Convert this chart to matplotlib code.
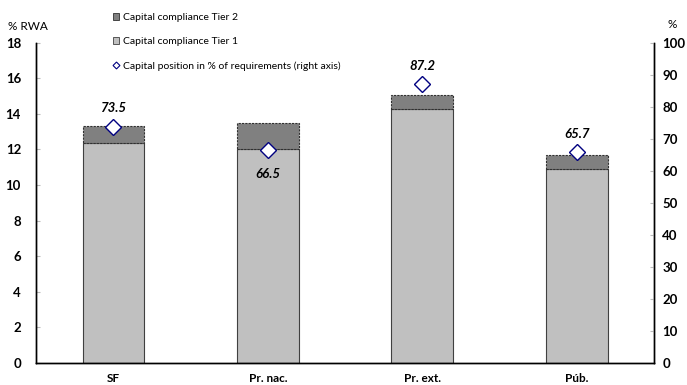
import numpy as np
import matplotlib
matplotlib.use("Agg")
import matplotlib.pyplot as plt
from matplotlib.patches import Patch
from matplotlib.lines import Line2D

plt.rcParams['font.family'] = ['Lato', 'DejaVu Sans']

# capital by bank group
groups = ['SF', 'Pr. nac.', 'Pr. ext.', 'Púb.']
tier1 = [12.38, 12.00, 14.29, 10.90]
tier2 = [0.93, 1.47, 0.77, 0.77]
position = [73.5, 66.5, 87.2, 65.7]
label_dy = [14, -17, 13, 13]   # offset of value labels, points

fig = plt.figure(figsize=(6.87, 3.85), dpi=100)
ax = fig.add_axes([0.0528, 0.0571, 0.8992, 0.8323])
ax2 = ax.twinx()

x = np.arange(len(groups))
w = 0.40
ax.bar(x, tier1, w, color='#c0c0c0', edgecolor='#404040', linewidth=0.8, zorder=2)
ax.bar(x, tier2, w, bottom=tier1, color='#808080', edgecolor='#303030',
       linewidth=0.8, linestyle=(0, (2, 1)), zorder=2)

ax.set_ylim(0, 18)
ax.set_yticks(np.arange(0, 19, 2))
ax.set_xlim(-0.5, len(groups) - 0.5)
ax.set_xticks(x)
ax.set_xticklabels(groups, fontsize=8.5, fontweight='bold')
ax.tick_params(axis='x', length=0, pad=7)
ax.tick_params(axis='y', direction='in', length=3, color='#bbbbbb', pad=11,
               labelsize=9.5)
for t in ax.get_yticklabels():
    t.set_fontweight('bold')

ax2.plot(x, position, linestyle='none', marker='D', ms=8, mfc='white',
         mec='#000080', mew=1.0, zorder=5)
ax2.set_ylim(0, 100)
ax2.set_yticks(np.arange(0, 101, 10))
ax2.tick_params(axis='y', direction='in', length=3, color='#bbbbbb', pad=6,
                labelsize=9.5)
for t in ax2.get_yticklabels():
    t.set_fontweight('bold')
for xi, v, dy in zip(x, position, label_dy):
    ax2.annotate(f'{v:.1f}', (xi, v), xytext=(0, dy), textcoords='offset points',
                 ha='center', va='center', fontsize=9.5, fontweight='bold',
                 fontstyle='italic')

for a in (ax, ax2):
    a.spines['top'].set_visible(False)
    for s in ('left', 'right', 'bottom'):
        a.spines[s].set_linewidth(1.0)
        a.spines[s].set_color('black')

fig.text(8 / 687, 1 - 27 / 385, '% RWA', fontsize=8.5, va='center', ha='left')
fig.text(672 / 687, 1 - 25 / 385, '%', fontsize=8.5, va='center', ha='center')

handles = [
    Patch(facecolor='#808080', edgecolor='#303030', linewidth=0.6),
    Patch(facecolor='#c0c0c0', edgecolor='#404040', linewidth=0.6),
    Line2D([], [], linestyle='none', marker='D', ms=3.5, mfc='white',
           mec='#000080', mew=0.8),
]
labels = ['Capital compliance Tier 2', 'Capital compliance Tier 1',
          'Capital position in % of requirements (right axis)']
fig.legend(handles, labels, loc='upper left', bbox_to_anchor=(108 / 687, 1 - 8 / 385),
           frameon=False, fontsize=7.5, handlelength=0.6, handleheight=0.6,
           handletextpad=0.3, labelspacing=1.45, borderpad=0)

fig.savefig('out.png', dpi=100)
